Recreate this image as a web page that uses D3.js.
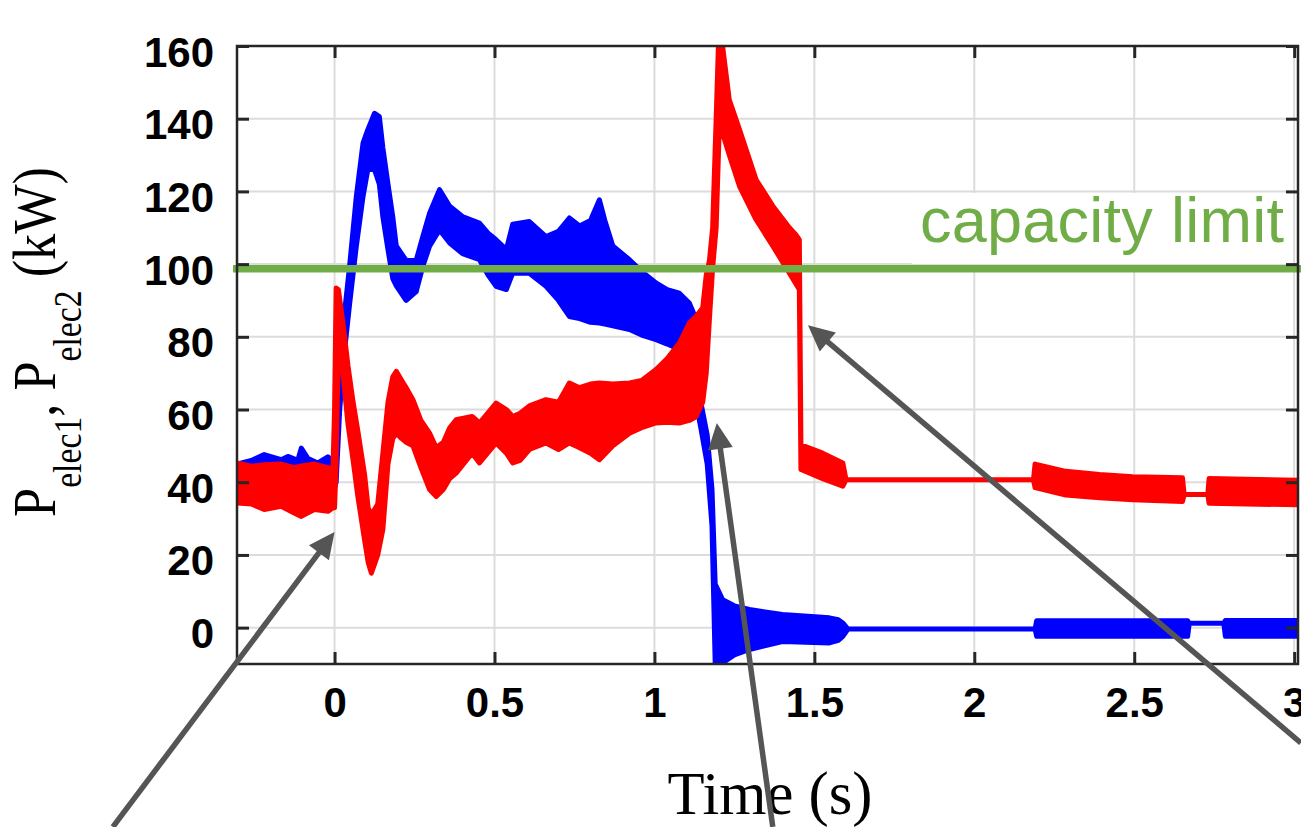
<!DOCTYPE html>
<html><head><meta charset="utf-8">
<script src="https://cdn.jsdelivr.net/npm/d3@7"></script>
<style>html,body{margin:0;padding:0;background:#fff;overflow:hidden}</style>
</head><body>
<svg id="chart" width="1301" height="827"></svg>
<script>
// ---------------- data ----------------
const xTicks = [0, 0.5, 1, 1.5, 2, 2.5, 3];
const xTickLabels = ["0", "0.5", "1", "1.5", "2", "2.5", "3"];
const yTicks = [0, 20, 40, 60, 80, 100, 120, 140, 160];
const yTickLabels = ["0", "20", "40", "60", "80", "100", "120", "140", "160"];

// P_elec1 (blue): time, upper and lower envelope of the oscillating band
const blueTime = [-0.306,-0.26,-0.22,-0.167,-0.146,-0.115,-0.104,-0.083,-0.052,-0.021,-0.005,0.005,0.016,0.031,0.047,0.068,0.089,0.104,0.125,0.14,0.151,0.167,0.182,0.193,0.224,0.255,0.276,0.297,0.328,0.36,0.40,0.453,0.48,0.505,0.537,0.557,0.609,0.661,0.70,0.734,0.766,0.80,0.828,0.845,0.87,0.922,0.96,1.005,1.04,1.078,1.109,1.13,1.145,1.165,1.18,1.19,1.213,1.25,1.297,1.40,1.547,1.575,1.589,1.605,2.19,2.195,2.667,2.672,2.78,2.785,3.02];
const blueHi = [45,46,47.6,46.2,47.1,46,49.4,46.5,45.3,47,46,52,74.6,86.5,99.5,118.6,133.3,137,141.5,140.6,132,122,113,105,101,101,107.6,114,120.5,115.9,113.1,111.3,108.5,106.7,104,111,111.7,107.6,109,112.7,110.5,112,117.7,112,105,101.2,98,94.8,93,92,89.3,85,62,53,38,12,7.7,6,5,3.6,2.7,2.2,1.3,-0.37,-0.37,1.9,1.9,1.2,1.2,2.0,2.0];
const blueLo = [37,37,37,37,37,37,37,37,37,37,37,40,60,76,89,104.9,118.6,126,126,122,113,104,96,94,90,92.4,99.4,104.9,109.4,105.8,102.9,101.2,97,93.9,93,97.5,97.5,93.9,90,85.6,85,84,83.8,83.5,83,82,80.5,79.2,78,76.5,76,62,55,45,28,-9.7,-9.7,-7.5,-6,-3.8,-4.2,-3.5,-2.4,-0.37,-0.37,-2.4,-2.4,1.2,1.2,-2.4,-2.4];

// P_elec2 (red)
const redTime = [-0.306,-0.26,-0.22,-0.167,-0.125,-0.104,-0.063,-0.02,-0.005,0.0,0.005,0.012,0.026,0.042,0.058,0.073,0.094,0.105,0.115,0.135,0.151,0.167,0.182,0.193,0.21,0.224,0.245,0.27,0.297,0.318,0.34,0.36,0.38,0.43,0.453,0.505,0.537,0.557,0.58,0.609,0.661,0.70,0.734,0.766,0.80,0.828,0.87,0.922,0.96,1.005,1.04,1.078,1.109,1.13,1.151,1.162,1.172,1.182,1.193,1.2,1.205,1.213,1.234,1.266,1.318,1.37,1.422,1.443,1.453,1.458,1.526,1.589,1.599,2.185,2.19,2.286,2.391,2.495,2.651,2.656,2.73,2.734,2.85,3.02];
const redHi = [45.3,44.4,44.8,45,44,44.5,45,44,43.5,60,93.4,93,84,72,62,54,42,33,31,34,48,62,69,70.5,68,66,62.7,57,53.5,49.5,51,55,57.2,58.1,56.3,61.8,60,58.1,59,61,62.7,62,67.3,66,67,67.3,67,67.3,68,71,74,78.3,83.8,85.6,88,97,101,110,140,160,163,160,145.2,137,123.2,116,110,108,106.7,50.3,48,45.3,40.7,40.7,45,43,42.1,41.5,41.2,36.6,36.6,41,40.8,40.5];
const redLo = [34.3,34,32.5,33.4,31.5,30.6,32.5,32,33,33,45,78,70,56,46,36,24,18,15,20,27,45,52,53.5,52,51,50,44,38,36.1,38,41,42.5,48,45.3,50.8,48,45.3,46,49,50.8,49,50.8,49.5,48,46.2,50,53.5,55,56.3,56.5,56.3,57,58,62,70,85,99,110,130,143,136,130,121.4,112.2,105,97.5,94.5,93,43.5,41,38.9,40.7,40.7,38.5,36.5,35.7,35.2,34.7,36.6,36.6,34.2,34,33.8];

const capacityLimit = 98.7;
const capacityLabel = "capacity limit";
const capacityLabelPos = [1.83, 106.1];   // [time, value] of label start / baseline

// annotation arrows: tail [t, v] -> tip [t, v]
const arrowTails = [[-0.693, -54.8], [1.370, -54.8], [3.021, -31.7]];
const arrowTips  = [[0.0, 26.3], [1.195, 56.3], [1.48, 83.2]];

const xTitle = "Time (s)";

// ---------------- drawing ----------------
const W = 1301, H = 827;
const svg = d3.select("#chart");
const x = d3.scaleLinear().domain([-0.305, 3.012]).range([237, 1298]);
const y = d3.scaleLinear().domain([-10, 160]).range([664, 46]);
const [x0, x1] = x.range(), [y0, y1] = y.range();

svg.append("defs").append("clipPath").attr("id", "plotclip")
  .append("rect").attr("x", x0).attr("y", y1).attr("width", x1 - x0).attr("height", y0 - y1);

// grid
const grid = svg.append("g").attr("stroke", "#dcdcdc").attr("stroke-width", 2);
grid.selectAll(".gx").data(xTicks).join("line").attr("class", "gx")
  .attr("x1", d => x(d)).attr("x2", d => x(d)).attr("y1", y1).attr("y2", y0);
grid.selectAll(".gy").data(yTicks).join("line").attr("class", "gy")
  .attr("y1", d => y(d)).attr("y2", d => y(d)).attr("x1", x0).attr("x2", x1);

// series
function band(times, hi, lo) {
  return times.map((t, i) => ({ t, hi: hi[i], lo: lo[i] }));
}
const area = d3.area().x(d => x(d.t)).y0(d => y(d.lo)).y1(d => y(d.hi));
const plot = svg.append("g").attr("clip-path", "url(#plotclip)");
plot.append("path").datum(band(blueTime, blueHi, blueLo)).attr("d", area)
  .attr("fill", "#0000ff").attr("stroke", "#0000ff").attr("stroke-width", 5).attr("stroke-linejoin", "round");
plot.append("path").datum(band(redTime, redHi, redLo)).attr("d", area)
  .attr("fill", "#ff0000").attr("stroke", "#ff0000").attr("stroke-width", 5).attr("stroke-linejoin", "round");

// capacity limit line
svg.append("line").attr("x1", x0 - 4).attr("x2", W).attr("y1", y(capacityLimit)).attr("y2", y(capacityLimit))
  .attr("stroke", "#70ad47").attr("stroke-width", 7.5);

// label with white background
const lx = x(capacityLabelPos[0]), ly = y(capacityLabelPos[1]);
svg.append("rect").attr("x", lx - 8).attr("y", ly - 49).attr("width", 380).attr("height", 71).attr("fill", "#fff");
svg.append("text").attr("x", lx).attr("y", ly).attr("fill", "#70ad47")
  .attr("font-family", "Liberation Sans, Arial, sans-serif").attr("font-size", 63)
  .attr("textLength", 364).attr("lengthAdjust", "spacing")
  .text(capacityLabel);

// frame
svg.append("rect").attr("x", x0).attr("y", y1).attr("width", x1 - x0).attr("height", y0 - y1)
  .attr("fill", "none").attr("stroke", "#262626").attr("stroke-width", 2.5);

// axes
const tickFont = "Liberation Sans, Arial, sans-serif";
function styleAxis(g) {
  g.select(".domain").remove();
  g.selectAll(".tick line").attr("stroke", "#262626").attr("stroke-width", 3);
  g.selectAll(".tick text").attr("fill", "#000").attr("font-family", tickFont)
    .attr("font-weight", "bold").attr("font-size", 42);
}
svg.append("g").attr("transform", `translate(0,${y0})`)
  .call(d3.axisBottom(x).tickValues(xTicks).tickFormat((d, i) => xTickLabels[i]).tickSize(-12).tickSizeOuter(0))
  .call(styleAxis)
  .call(g => g.selectAll(".tick text").attr("y", 53).attr("dy", 0));
svg.append("g").attr("transform", `translate(${x0},0)`)
  .call(d3.axisLeft(y).tickValues(yTicks).tickFormat((d, i) => yTickLabels[i]).tickSize(-12).tickSizeOuter(0).tickPadding(23))
  .call(styleAxis)
  .call(g => g.selectAll(".tick text").attr("dy", 20));
svg.append("g").attr("transform", `translate(0,${y1})`)
  .call(d3.axisTop(x).tickValues(xTicks).tickFormat("").tickSize(-12).tickSizeOuter(0))
  .call(styleAxis);
svg.append("g").attr("transform", `translate(${x1},0)`)
  .call(d3.axisRight(y).tickValues(yTicks).tickFormat("").tickSize(-12).tickSizeOuter(0))
  .call(styleAxis);

// axis titles
const serif = "Liberation Serif, Times New Roman, serif";
const xt = svg.append("text").attr("font-family", serif).attr("font-size", 62)
  .attr("text-anchor", "middle").attr("fill", "#000").text(xTitle);
{
  const len = xt.node().getComputedTextLength();
  const k = 205 / len;
  xt.attr("transform", `translate(770,814) scale(${k},1)`);
}
const yt = svg.append("text").attr("font-family", serif).attr("font-size", 62)
  .attr("text-anchor", "middle").attr("fill", "#000");
yt.append("tspan").text("P");
yt.append("tspan").attr("font-size", 40).attr("dy", 26).text("elec1");
yt.append("tspan").attr("dy", -26).text(", P");
yt.append("tspan").attr("font-size", 40).attr("dy", 26).text("elec2");
yt.append("tspan").attr("dy", -26).text(" (kW)");
{
  const len = yt.node().getComputedTextLength();
  const k = 350 / len;
  yt.attr("transform", `translate(55,342) rotate(-90) scale(${k},1)`);
}

// arrows
const ag = svg.append("g");
arrowTails.forEach((tail, i) => {
  const tip = arrowTips[i];
  const ax = x(tail[0]), ay = y(tail[1]), bx = x(tip[0]), by = y(tip[1]);
  const dx = bx - ax, dy = by - ay, L = Math.hypot(dx, dy);
  const ux = dx / L, uy = dy / L, px = -uy, py = ux;
  const hl = 26, hw = 12.5;
  const cx = bx - ux * hl, cy = by - uy * hl;
  ag.append("line").attr("x1", ax).attr("y1", ay).attr("x2", cx + ux * 2).attr("y2", cy + uy * 2)
    .attr("stroke", "#555").attr("stroke-width", 5.5);
  ag.append("polygon")
    .attr("points", `${bx},${by} ${cx + px * hw},${cy + py * hw} ${cx - px * hw},${cy - py * hw}`)
    .attr("fill", "#555");
});
</script>
</body></html>
